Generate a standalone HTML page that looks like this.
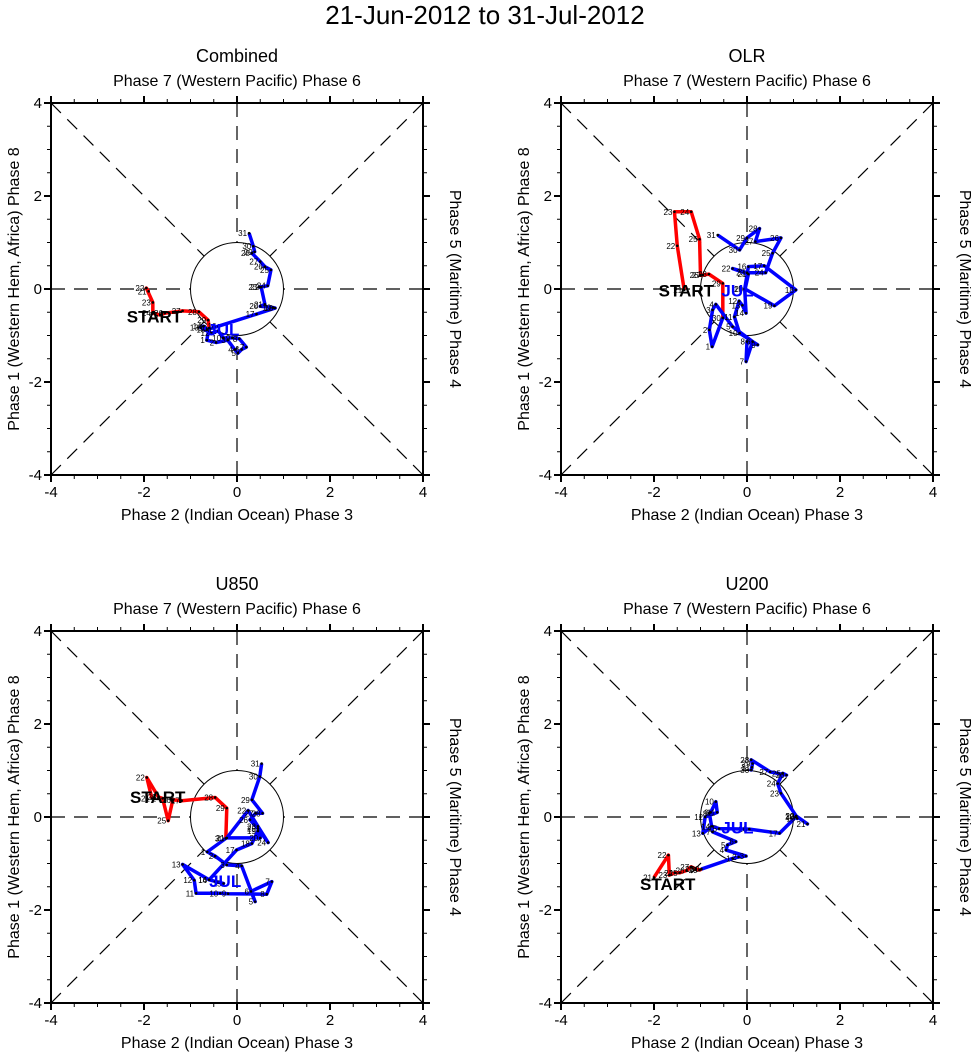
<!DOCTYPE html>
<html><head><meta charset="utf-8"><style>
body{margin:0;background:#fff}
svg{display:block;font-family:"Liberation Sans",Arial,sans-serif}
</style></head><body>
<svg id="s" width="971" height="1056" viewBox="0 0 971 1056">
<text x="485" y="24" text-anchor="middle" font-size="26">21-Jun-2012 to 31-Jul-2012</text>
</svg>
<script>
// Combined
const combRedX=[-1.9,-1.95,-1.81,-1.81,-1.65,-1.55,-1.17,-0.82,-0.62,-0.6];
const combRedY=[-0.05,0.02,-0.29,-0.52,-0.56,-0.52,-0.47,-0.49,-0.67,-0.84];
const combBlueX=[-0.65,-0.45,-0.2,-0.05,0.02,0.1,0.2,0.05,-0.1,-0.3,-0.4,-0.55,-0.78,-0.72,-0.64,-0.4,0.42,0.82,0.78,0.5,0.6,0.52,0.48,0.66,0.73,0.6,0.5,0.32,0.38,0.35,0.26];
const combBlueY=[-1.1,-1.15,-1.1,-1.3,-1.38,-1.3,-1.25,-1.07,-1.05,-1.05,-0.9,-0.95,-0.83,-0.8,-0.87,-0.8,-0.54,-0.41,-0.4,-0.37,-0.33,0.04,0.04,0.07,0.41,0.48,0.59,0.77,0.8,0.92,1.2];
// OLR
const olrRedX=[-1.35,-1.5,-1.56,-1.2,-1.02,-1.0,-0.95,-0.82,-0.52,-0.52];
const olrRedY=[-0.02,0.93,1.66,1.66,1.07,0.3,0.3,0.32,0.12,-0.62];
const olrBlueX=[-0.75,-0.81,-0.74,-0.67,-0.31,0.12,-0.02,0,0.23,-0.16,-0.27,-0.17,-0.1,-0.02,-0.05,0.03,0.37,1.05,0.59,-0.04,0.03,-0.31,0.0,0.4,0.55,0.73,0.18,0.27,0.0,-0.16,-0.63];
const olrBlueY=[-1.24,-0.88,-0.45,-0.33,-0.81,-1.13,-1.56,-1.13,-1.2,-0.95,-0.6,-0.26,-0.35,-0.52,0.0,0.48,0.5,-0.02,-0.36,0.0,0.32,0.44,0.35,0.35,0.77,1.1,1.02,1.3,1.1,0.84,1.16];
// U850
const u850RedX=[-1.83,-1.94,-1.69,-1.6,-1.48,-1.38,-1.19,-0.47,-0.22,-0.24];
const u850RedY=[0.4,0.85,0.43,0.4,-0.08,0.37,0.35,0.42,0.19,-0.46];
const u850BlueX=[-0.64,-0.47,-0.22,0.1,0.39,0.3,0.75,0.64,-0.19,-0.36,-0.88,-0.92,-1.17,-0.6,-0.29,-0.6,-0.01,0.32,0.45,0.5,-0.22,0.24,0.45,0.67,0.45,0.28,0.4,0.55,0.32,0.49,0.53];
const u850BlueY=[-0.75,-0.84,-1.03,-1.05,-1.82,-1.6,-1.39,-1.66,-1.65,-1.64,-1.64,-1.36,-1.02,-1.35,-1.43,-1.35,-0.71,-0.57,-0.3,-0.45,-0.45,0.14,-0.2,-0.55,-0.25,-0.06,0.08,0.08,0.37,0.87,1.15];
// U200
const u200RedX=[-2.0,-1.69,-1.67,-1.55,-1.45,-1.3,-1.2,-1.1,-1.02,-0.98];
const u200RedY=[-1.3,-0.82,-1.25,-1.2,-1.2,-1.15,-1.07,-1.12,-1.14,-1.12];
const u200BlueX=[-0.31,-0.18,-0.02,-0.45,-0.42,-0.24,-0.74,-0.81,-0.78,-0.67,-0.64,-0.9,-0.95,-0.75,-0.6,0.05,0.7,1.05,1.08,1.06,1.3,1.06,0.73,0.66,0.77,0.85,0.5,0.09,0.12,0.09,0.11];
const u200BlueY=[-0.89,-0.86,-0.84,-0.71,-0.6,-0.53,-0.32,0.08,0.1,0.33,0.1,0.0,-0.35,-0.2,-0.25,-0.26,-0.35,0.0,-0.03,0.02,-0.15,0.02,0.51,0.72,0.94,0.9,0.97,1.23,1.15,1.01,1.07];
const tickVals=[-4,-2,0,2,4];

const NS='http://www.w3.org/2000/svg';
const svg=document.getElementById('s');
function mk(tag,attrs,parent,txt){const e=document.createElementNS(NS,tag);for(const k in attrs)e.setAttribute(k,attrs[k]);if(txt!==undefined)e.textContent=txt;(parent||svg).appendChild(e);return e;}

function panel(name,title,x0,y0,rx,ry,bx,by,stPos,julPos){
  const S=372,k=S/8;
  const sx=v=>x0+(v+4)*k, sy=v=>y0+(4-v)*k;
  const g=mk('g',{});
  
  
  const cx=sx(0),cy=sy(0),r=k;
  const dash={stroke:'#000','stroke-width':1.2,'stroke-dasharray':'14,9',fill:'none'};
  const d=r/Math.SQRT2;
  [[sx(-4),cy,cx-r,cy],[sx(4),cy,cx+r,cy],[cx,sy(4),cx,cy-r],[cx,sy(-4),cx,cy+r],
   [sx(-4),sy(4),cx-d,cy-d],[sx(4),sy(-4),cx+d,cy+d],[sx(4),sy(4),cx+d,cy-d],[sx(-4),sy(-4),cx-d,cy+d]].forEach(l=>{
    const e=mk('line',Object.assign({x1:l[0],y1:l[1],x2:l[2],y2:l[3]},dash),g);
    
    
  });
  const c=mk('circle',{cx:cx,cy:cy,r:r,fill:'none',stroke:'#000','stroke-width':1},g);
  
  
  const fr=mk('rect',{x:x0,y:y0,width:S,height:S,fill:'none',stroke:'#000','stroke-width':2},g);
  
  
  for(let v=-4;v<=4;v+=0.5){
    const maj=Math.abs(v%2)<1e-9, L=maj?7:4;
    mk('line',{x1:sx(v),y1:y0+S,x2:sx(v),y2:y0+S+L,stroke:'#000','stroke-width':maj?2:1},g);
    mk('line',{x1:sx(v),y1:y0,x2:sx(v),y2:y0-L,stroke:'#000','stroke-width':maj?2:1},g);
    mk('line',{x1:x0,y1:sy(v),x2:x0-L,y2:sy(v),stroke:'#000','stroke-width':maj?2:1},g);
    mk('line',{x1:x0+S,y1:sy(v),x2:x0+S+L,y2:sy(v),stroke:'#000','stroke-width':maj?2:1},g);
  }
  tickVals.forEach(v=>{
    const t=mk('text',{x:sx(v),y:y0+S+22,'text-anchor':'middle','font-size':15},g,String(v));
    
    
    const u=mk('text',{x:x0-9,y:sy(v)+5,'text-anchor':'end','font-size':15},g,String(v));
    
    
  });
  const tt=mk('text',{x:x0+S/2,y:y0-41,'text-anchor':'middle','font-size':18},g,title);
  
  
  const tl=mk('text',{x:x0+S/2,y:y0-17,'text-anchor':'middle','font-size':16},g,'Phase 7 (Western Pacific) Phase 6');
  
  
  const bl=mk('text',{x:x0+S/2,y:y0+S+45,'text-anchor':'middle','font-size':16},g,'Phase 2 (Indian Ocean) Phase 3');
  
  
  const ll=mk('text',{x:0,y:0,'text-anchor':'middle','font-size':16,transform:`translate(${x0-32},${y0+S/2}) rotate(-90)`},g,'Phase 1 (Western Hem, Africa) Phase 8');
  
  
  const rl=mk('text',{x:0,y:0,'text-anchor':'middle','font-size':16,transform:`translate(${x0+S+27},${y0+S/2}) rotate(90)`},g,'Phase 5 (Maritime) Phase 4');
  
  
  const rp=rx.map((v,i)=>sx(v)+','+sy(ry[i])).join(' ');
  const rline=mk('polyline',{points:rp,fill:'none',stroke:'#f00','stroke-width':3.5,'stroke-linejoin':'round'},g);
  
  
  const bp=[sx(rx[rx.length-1])+','+sy(ry[ry.length-1])].concat(bx.map((v,i)=>sx(v)+','+sy(by[i]))).join(' ');
  const bline=mk('polyline',{points:bp,fill:'none',stroke:'#00f','stroke-width':3.5,'stroke-linejoin':'round'},g);
  
  
  function pts(xs,ys,d0){
    xs.forEach((v,i)=>{
      const p=mk('circle',{cx:sx(v),cy:sy(ys[i]),r:1.3,fill:'#000'},g);
      
      
      const t=mk('text',{x:sx(v)-2,y:sy(ys[i])+3,'text-anchor':'end','font-size':8},g,String(d0+i));
      
      
    });
  }
  pts(rx,ry,21);pts(bx,by,1);
  const st=mk('text',{x:sx(stPos[0]),y:sy(stPos[1]),'font-size':17,'font-weight':'bold'},g,'START');
  
  
  const jl=mk('text',{x:sx(julPos[0]),y:sy(julPos[1]),'font-size':17,'font-weight':'bold',fill:'#00f'},g,'JUL');
  
  
}
panel('combined','Combined',51,103,combRedX,combRedY,combBlueX,combBlueY,[-2.37,-0.72],[-0.64,-1.0]);
panel('olr','OLR',561,103,olrRedX,olrRedY,olrBlueX,olrBlueY,[-1.9,-0.16],[-0.55,-0.16]);
panel('u850','U850',51,631,u850RedX,u850RedY,u850BlueX,u850BlueY,[-2.3,0.3],[-0.6,-1.5]);
panel('u200','U200',561,631,u200RedX,u200RedY,u200BlueX,u200BlueY,[-2.3,-1.57],[-0.55,-0.35]);
</script>
</body></html>
